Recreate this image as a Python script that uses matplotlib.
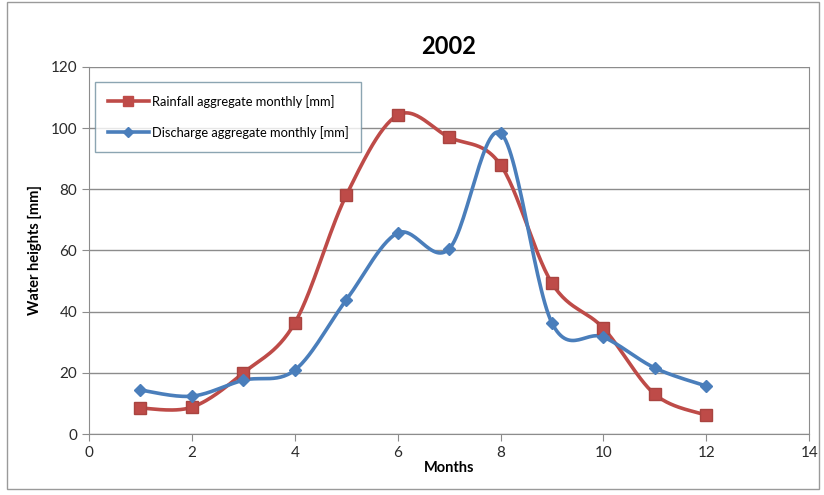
import numpy as np
import matplotlib
matplotlib.use("Agg")
import matplotlib.pyplot as plt
from matplotlib.patches import Rectangle

plt.rcParams['font.family'] = ['Lato', 'DejaVu Sans']

# data
months = [1, 2, 3, 4, 5, 6, 7, 8, 9, 10, 11, 12]
rainfall = [8.5, 8.8, 20.0, 36.3, 78.0, 104.2, 97.0, 88.0, 49.3, 34.6, 13.0, 6.2]
discharge = [14.4, 12.4, 17.6, 20.9, 43.8, 65.7, 60.5, 98.4, 36.3, 31.7, 21.6, 15.7]

red = '#BE4B48'
blue = '#4A7EBB'


def smooth(x, y, n=30):
    # Excel-style smoothed line: cubic bezier segments, control points from neighbours
    x = np.asarray(x, float)
    y = np.asarray(y, float)
    px = np.concatenate([[x[0]], x, [x[-1]]])
    py = np.concatenate([[y[0]], y, [y[-1]]])
    xs, ys = [], []
    t = np.linspace(0, 1, n)
    for i in range(1, len(px) - 2):
        p0 = np.array([px[i], py[i]])
        p3 = np.array([px[i + 1], py[i + 1]])
        c1 = p0 + (np.array([px[i + 1], py[i + 1]]) - np.array([px[i - 1], py[i - 1]])) / 6
        c2 = p3 - (np.array([px[i + 2], py[i + 2]]) - np.array([px[i], py[i]])) / 6
        b = ((1 - t) ** 3)[:, None] * p0 + (3 * (1 - t) ** 2 * t)[:, None] * c1 \
            + (3 * (1 - t) * t ** 2)[:, None] * c2 + (t ** 3)[:, None] * p3
        xs.extend(b[:, 0])
        ys.extend(b[:, 1])
    return xs, ys


fig = plt.figure(figsize=(8.24, 4.95), dpi=100)
ax = fig.add_axes([0.108, 0.123, 0.874, 0.742])

# outer chart border
fig.patches.append(Rectangle((0.008, 0.012), 0.986, 0.983, transform=fig.transFigure,
                             fill=False, edgecolor='#9a9a9a', linewidth=1))

sx, sy = smooth(months, rainfall)
ax.plot(sx, sy, color=red, linewidth=2.6, zorder=3)
ax.plot(months, rainfall, linestyle='none', marker='s', markersize=8.5,
        color=red, markeredgecolor='#a94440', zorder=4)

sx, sy = smooth(months, discharge)
ax.plot(sx, sy, color=blue, linewidth=2.6, zorder=3)
ax.plot(months, discharge, linestyle='none', marker='D', markersize=6.5,
        color=blue, markeredgecolor=blue, zorder=4)

# legend proxies
ax.plot([], [], color=red, linewidth=2.6, marker='s', markersize=7,
        label='Rainfall aggregate monthly [mm]')
ax.plot([], [], color=blue, linewidth=2.6, marker='D', markersize=5,
        label='Discharge aggregate monthly [mm]')

ax.set_xlim(0, 14)
ax.set_ylim(0, 120)
ax.set_xticks(range(0, 15, 2))
ax.set_yticks(range(0, 121, 20))
ax.grid(axis='y', color='#8c8c8c', linewidth=1)
ax.set_axisbelow(True)

for s in ['left', 'bottom']:
    ax.spines[s].set_color('#8c8c8c')
ax.spines['right'].set_color('#8c8c8c')
ax.spines['top'].set_visible(False)
ax.tick_params(colors='#8c8c8c', labelcolor='#2a2a2a', labelsize=11, length=5,
               direction='out')

ax.set_xlabel('Months', fontsize=10.5, fontweight='bold', labelpad=1)
ax.set_ylabel('Water heights [mm]', fontsize=10.5, fontweight='bold', labelpad=6)
ax.set_title('2002', fontsize=17, fontweight='bold', pad=9)

handles, labels = ax.get_legend_handles_labels()
leg = ax.legend(handles[-2:], labels[-2:], loc='upper left', bbox_to_anchor=(0.008, 0.959),
                borderaxespad=0, fontsize=9.3, frameon=True, fancybox=False,
                edgecolor='#6f8f9f', handlelength=3.2, labelspacing=1.4,
                borderpad=1.0, handletextpad=0.2)
leg.get_frame().set_linewidth(1)

fig.savefig('out.png', dpi=100)
